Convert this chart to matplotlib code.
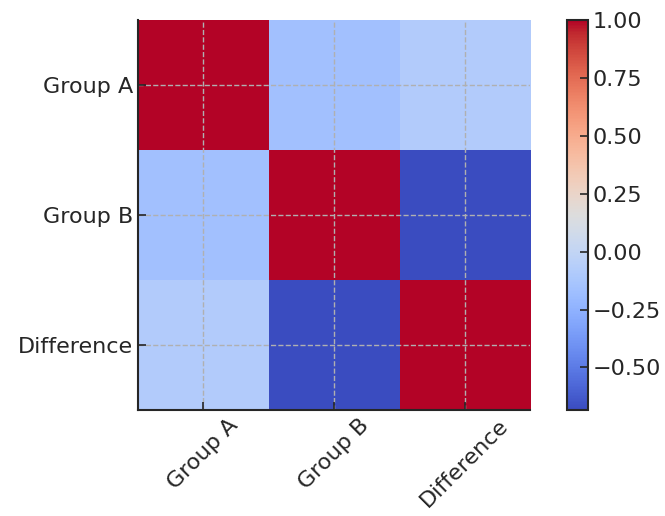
import numpy as np
import matplotlib
matplotlib.use("Agg")
import matplotlib.pyplot as plt

# --- Data ---
labels = ["Group A", "Group B", "Difference"]
row_a = [1.00, -0.16, -0.08]
row_b = [-0.16, 1.00, -0.684]
row_diff = [-0.08, -0.684, 1.00]
corr = np.array([row_a, row_b, row_diff])

plt.rcParams['font.size'] = 16
plt.rcParams['text.color'] = '#262626'
plt.rcParams['xtick.color'] = '#262626'
plt.rcParams['ytick.color'] = '#262626'

fig = plt.figure(figsize=(6.65, 5.16), dpi=100)
ax = fig.add_axes([0.2075, 0.2054, 0.5895, 0.7558])
cax = fig.add_axes([0.8526, 0.2054, 0.0316, 0.7558])

im = ax.imshow(corr, cmap='coolwarm', aspect='auto')

ax.set_xticks(range(len(labels)))
ax.set_yticks(range(len(labels)))
ax.set_xticklabels(labels, rotation=45)
ax.set_yticklabels(labels)
ax.tick_params(direction='in', length=6, width=1.2)
ax.grid(True, linestyle='--', color='#b0b0b0', linewidth=1.0)
ax.spines['top'].set_visible(False)
ax.spines['right'].set_visible(False)
ax.spines['left'].set_linewidth(1.5)
ax.spines['bottom'].set_linewidth(1.5)
ax.spines['left'].set_color('#262626')
ax.spines['bottom'].set_color('#262626')

cbar = fig.colorbar(im, cax=cax)
cbar.set_ticks([-0.5, -0.25, 0, 0.25, 0.5, 0.75, 1.0])
cbar.ax.tick_params(direction='in', length=6, width=1.2)
cbar.outline.set_linewidth(1.5)
cbar.outline.set_edgecolor('#262626')

plt.savefig("out.png", dpi=100)
